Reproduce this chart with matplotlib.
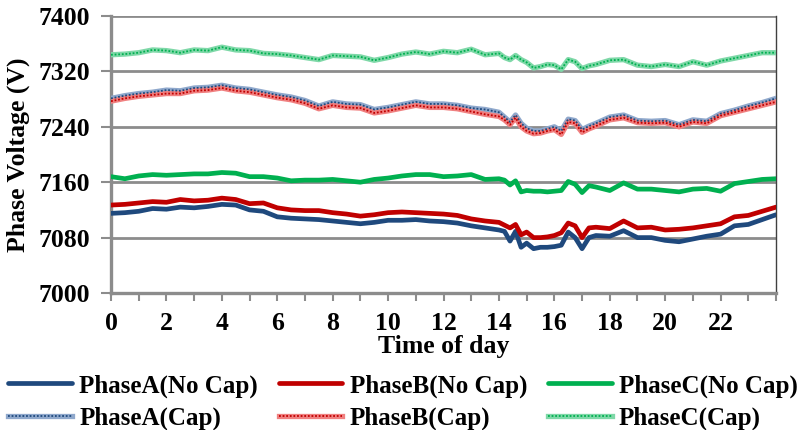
import matplotlib
matplotlib.use("Agg")
import matplotlib.pyplot as plt
from matplotlib.legend_handler import HandlerTuple

plt.rcParams['font.family'] = ['Liberation Serif', 'DejaVu Serif']
plt.rcParams['font.weight'] = 'bold'

# hour of day for each sample
hours = [0, 0.5, 1, 1.5, 2, 2.5, 3, 3.5, 4, 4.5, 5, 5.5, 6, 6.5, 7, 7.5,
         8, 8.5, 9, 9.5, 10, 10.5, 11, 11.5, 12, 12.5, 13, 13.5, 14, 14.2,
         14.4, 14.6, 14.8, 15, 15.25, 15.5, 15.75, 16, 16.25, 16.5, 16.75,
         17, 17.25, 17.5, 18, 18.5, 19, 19.5, 20, 20.5, 21, 21.5, 22, 22.5,
         23, 23.5, 24]

phaseA_nocap = [7115, 7116, 7118, 7122, 7121, 7124, 7123, 7125, 7128, 7127,
                7120, 7118, 7110, 7108, 7107, 7106, 7104, 7102, 7100, 7102,
                7105, 7105, 7106, 7104, 7103, 7101, 7097, 7094, 7091, 7089,
                7075, 7089, 7066, 7072, 7064, 7066, 7066, 7067, 7069, 7088,
                7080, 7064, 7080, 7083, 7082, 7090, 7080, 7080, 7076, 7074,
                7078, 7082, 7085, 7097, 7099, 7106, 7113]
phaseB_nocap = [7127, 7128, 7130, 7132, 7131, 7135, 7133, 7134, 7137, 7135,
                7129, 7130, 7123, 7120, 7119, 7119, 7116, 7114, 7111, 7113,
                7116, 7117, 7116, 7115, 7114, 7112, 7107, 7104, 7102, 7098,
                7094, 7099, 7084, 7088, 7080, 7080, 7081, 7083, 7087, 7101,
                7097, 7080, 7094, 7095, 7093, 7104, 7094, 7095, 7091, 7092,
                7094, 7097, 7100, 7110, 7112, 7118, 7124]
phaseC_nocap = [7168, 7165, 7169, 7171, 7170, 7171, 7172, 7172, 7174, 7173,
                7168, 7168, 7166, 7162, 7163, 7163, 7164, 7162, 7160, 7164,
                7166, 7169, 7171, 7171, 7168, 7169, 7171, 7164, 7165, 7163,
                7156, 7162, 7146, 7148, 7147, 7147, 7146, 7147, 7148, 7161,
                7157, 7145, 7155, 7153, 7148, 7159, 7150, 7150, 7148, 7146,
                7150, 7151, 7147, 7158, 7161, 7164, 7165]
phaseA_cap = [7281, 7285, 7288, 7290, 7293, 7292, 7296, 7297, 7300, 7296,
              7294, 7290, 7286, 7283, 7278, 7270, 7276, 7273, 7272, 7265,
              7268, 7272, 7276, 7273, 7273, 7271, 7267, 7265, 7261, 7254,
              7247, 7257, 7245, 7238, 7234, 7234, 7237, 7240, 7234, 7251,
              7249, 7236, 7241, 7245, 7254, 7257, 7249, 7248, 7249, 7243,
              7250, 7248, 7259, 7264, 7270, 7275, 7281]
phaseB_cap = [7277, 7281, 7284, 7286, 7288, 7288, 7292, 7293, 7296, 7292,
              7290, 7286, 7282, 7279, 7274, 7266, 7271, 7268, 7267, 7260,
              7263, 7267, 7271, 7268, 7268, 7266, 7262, 7258, 7255, 7250,
              7243, 7253, 7240, 7234, 7230, 7231, 7234, 7236, 7229, 7247,
              7245, 7232, 7237, 7241, 7250, 7253, 7246, 7245, 7246, 7240,
              7247, 7245, 7256, 7261, 7266, 7271, 7276]
phaseC_cap = [7344, 7345, 7347, 7351, 7350, 7347, 7351, 7350, 7355, 7351,
              7350, 7346, 7345, 7343, 7340, 7337, 7343, 7342, 7341, 7336,
              7340, 7345, 7348, 7345, 7349, 7347, 7352, 7344, 7346, 7340,
              7337, 7343, 7337, 7333, 7325, 7327, 7330, 7329, 7323, 7337,
              7334, 7324, 7328, 7330, 7336, 7337, 7329, 7327, 7330, 7327,
              7334, 7329, 7335, 7339, 7343, 7347, 7347]

names = ['PhaseA', 'PhaseB', 'PhaseC']
colors = ['#1F497D', '#C00000', '#00B050']
light = ['#8FA8CC', '#F08080', '#7FD8A8']
yticks = [7000, 7080, 7160, 7240, 7320, 7400]
xticks = list(range(0, 24, 2))

fig = plt.figure(figsize=(8.01, 4.30), dpi=100)
ax = fig.add_axes([0.1386, 0.3186, 0.8302, 0.6442])

nocap = [phaseA_nocap, phaseB_nocap, phaseC_nocap]
cap = [phaseA_cap, phaseB_cap, phaseC_cap]
handles = []
for name, c, lc, v0, v1 in zip(names, colors, light, nocap, cap):
    h0, = ax.plot(hours, v0, color=c, lw=3.4, solid_joinstyle='round',
                  solid_capstyle='round', zorder=3)
    # capacitor cases: pale thick band with a dotted core
    hb, = ax.plot(hours, v1, color=lc, lw=3.8, solid_joinstyle='round', zorder=3)
    hd, = ax.plot(hours, v1, color=c, lw=1.3, ls=(0, (1, 1)), zorder=4)
    handles.append((h0, name + '(No Cap)'))
    handles.append(((hb, hd), name + '(Cap)'))

ax.set_xlim(0, 24)
ax.set_ylim(7000, 7400)
ax.set_yticks(yticks)
ax.set_xticks(xticks)
ax.set_xticks(range(0, 25), minor=True)
ax.grid(axis='y', color='#8C8C8C', lw=2.0, zorder=1)
ax.set_axisbelow(True)

for s in ['left', 'bottom']:
    ax.spines[s].set_color('#8C8C8C')
    ax.spines[s].set_linewidth(2.4)
ax.spines['top'].set_visible(False)
ax.spines['right'].set_color('#404040')
ax.spines['right'].set_linewidth(1.0)

ax.tick_params(axis='both', which='both', color='#8C8C8C', width=1.5,
               direction='out', labelsize=18.5)
ax.tick_params(axis='y', length=7, pad=8)
ax.tick_params(axis='x', which='major', length=6, pad=8)
ax.tick_params(axis='x', which='minor', length=6)

ax.set_xlabel('Time of day', fontsize=18.5, fontweight='bold', labelpad=0)
ax.set_ylabel('Phase Voltage (V)', fontsize=18.5, fontweight='bold', labelpad=6)

leg = fig.legend([h for h, _ in handles], [l for _, l in handles],
                 loc='upper left', bbox_to_anchor=(0.01, 0.13), ncol=3,
                 frameon=False, fontsize=18, handlelength=2.55,
                 handletextpad=0.3, columnspacing=0.82, labelspacing=0.36,
                 borderaxespad=0, borderpad=0,
                 handler_map={tuple: HandlerTuple(ndivide=1, pad=0)})

fig.savefig('out.png', dpi=100)
